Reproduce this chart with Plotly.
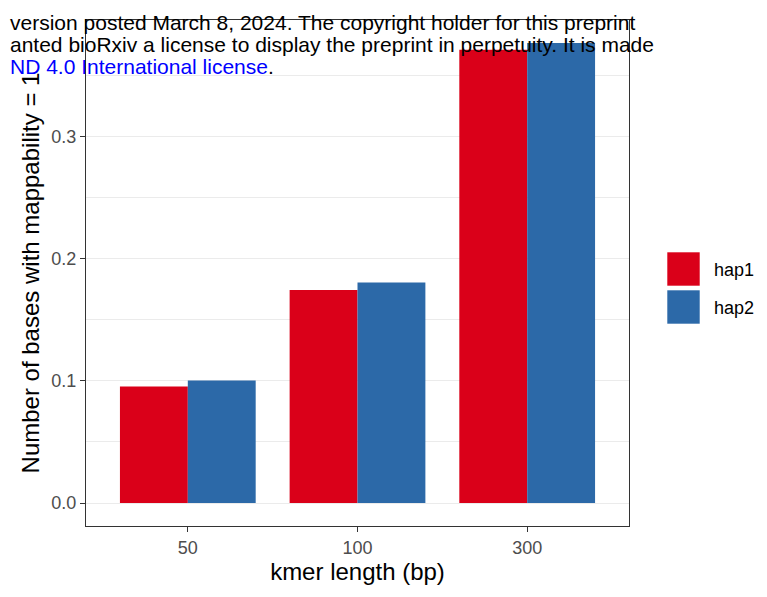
import plotly.graph_objects as go

# data
kmer = ["50", "100", "300"]
hap1 = [0.0954, 0.1744, 0.371]
hap2 = [0.1002, 0.1804, 0.3765]
groups = ["hap1", "hap2"]
colours = ["#DA0019", "#2C69A8"]

fig = go.Figure()
for name, vals, col in zip(groups, [hap1, hap2], colours):
    fig.add_trace(go.Bar(x=kmer, y=vals, name=name, marker_color=col,
                         marker_line_width=0, showlegend=False))

# page body adds 8px; panel on screen is x 86..629, y 20..526
fig.update_layout(
    width=759, height=589,
    margin=dict(l=78, r=138, t=12, b=71),
    barmode="group", bargap=0.2, bargroupgap=0,
    plot_bgcolor="white", paper_bgcolor="white",
    font=dict(family="Liberation Sans, Arial, sans-serif", color="black"),
)
fig.update_xaxes(
    range=[-0.6, 2.6],  # ggplot discrete expansion
    showgrid=False, showline=True, linecolor="#333333", linewidth=1.1, mirror=True,
    ticks="outside", ticklen=5, tickcolor="#333333",
    tickfont=dict(size=18, color="#4D4D4D"),
    title=dict(text="kmer length (bp)", font=dict(size=24), standoff=4),
)
fig.update_yaxes(
    range=[-0.0188, 0.3953], tickvals=[0, 0.1, 0.2, 0.3], ticktext=["0.0", "0.1", "0.2", "0.3"],
    showgrid=True, gridcolor="#EBEBEB", gridwidth=1.1, zeroline=False,
    minor=dict(tickvals=[0.05, 0.15, 0.25, 0.35], showgrid=True, gridcolor="#EBEBEB", gridwidth=0.6),
    showline=True, linecolor="#333333", linewidth=1.1, mirror=True,
    ticks="outside", ticklen=5, tickcolor="#333333",
    tickfont=dict(size=18, color="#4D4D4D"),
    title=dict(text="Number of bases with mappability = 1", font=dict(size=24), standoff=4),
)

# legend drawn by hand to get the large ggplot keys (screen pixel helpers)
W, H = 543, 506
def px(x):
    return (x - 86) / W
def py(y):
    return (526 - y) / H

for i, (name, col) in enumerate(zip(groups, colours)):
    top = 252 + i * 38
    fig.add_shape(type="rect", xref="paper", yref="paper",
                  x0=px(667), x1=px(700), y0=py(top), y1=py(top + 34),
                  fillcolor=col, line=dict(width=0.6, color="white"))
    fig.add_annotation(xref="paper", yref="paper", x=px(712), y=py(top + 18),
                       text=name, showarrow=False, xanchor="left", yanchor="middle",
                       font=dict(size=18, color="black"))

# bioRxiv watermark overlay
lines = [
    "version posted March 8, 2024. The copyright holder for this preprint",
    "anted bioRxiv a license to display the preprint in perpetuity. It is made",
    "<span style='color:#0000FF'>ND 4.0 International license</span>.",
]
for j, t in enumerate(lines):
    fig.add_annotation(xref="paper", yref="paper", x=px(8), y=py(23 + j * 21.5),
                       text=t, showarrow=False, xanchor="left", yanchor="middle",
                       font=dict(size=21, color="black"))

fig.write_html("out.html")
